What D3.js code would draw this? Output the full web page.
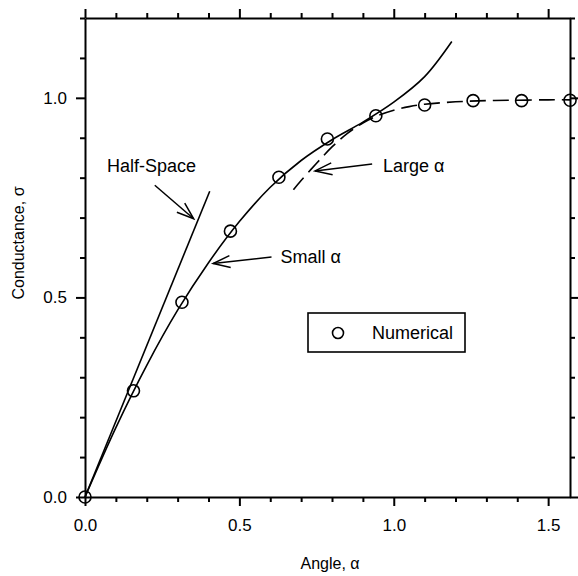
<!DOCTYPE html>
<html>
<head>
<meta charset="utf-8">
<script src="https://cdn.jsdelivr.net/npm/d3@7"></script>
<style>
  body { margin: 0; background: #fff; }
  svg text { font-family: "Liberation Sans", Arial, Helvetica, sans-serif; fill: #000; }
  .axis path, .axis line { stroke: #000; stroke-width: 2; }
  .axis text { font-size: 17px; }
</style>
</head>
<body>
<div id="chart"></div>
<script>
// numerical solution (circles)
var angleNum = [0, 0.157, 0.314, 0.471, 0.628, 0.785, 0.942, 1.100, 1.257, 1.414, 1.571];
var sigmaNum = [0, 0.266, 0.488, 0.666, 0.801, 0.897, 0.955, 0.982, 0.993, 0.993, 0.994];

// small angle approximation (solid)
var angleSmall = [0, 0.1, 0.2, 0.3, 0.4, 0.5, 0.6, 0.7, 0.8, 0.9, 1.0, 1.1, 1.188];
var sigmaSmall = [0, 0.174, 0.330, 0.468, 0.587, 0.690, 0.776, 0.843, 0.895, 0.939, 0.989, 1.053, 1.141];

// large angle approximation (dashed)
var angleLarge = [0.675, 0.7, 0.75, 0.8, 0.85, 0.9, 0.95, 1.0, 1.05, 1.1, 1.2, 1.3, 1.4, 1.5, 1.571];
var sigmaLarge = [0.770, 0.793, 0.836, 0.877, 0.911, 0.937, 0.956, 0.969, 0.978, 0.984, 0.990, 0.993, 0.994, 0.995, 0.995];

// half-space (straight line)
var angleHalf = [0, 0.404];
var sigmaHalf = [0, 0.766];

// tick values
var xMajor = [0, 0.5, 1.0, 1.5];
var xMinor = [0.1, 0.2, 0.3, 0.4, 0.6, 0.7, 0.8, 0.9, 1.1, 1.2, 1.3, 1.4];
var yMajor = [0, 0.5, 1.0];
var yMinor = [0.1, 0.2, 0.3, 0.4, 0.6, 0.7, 0.8, 0.9, 1.1, 1.2];

// annotations: label, label position, arrow tail, arrow head (data units)
var notes = [
  {text: "Half-Space", lx: 0.071, ly: 0.813, x0: 0.226, y0: 0.781, x1: 0.352, y1: 0.697},
  {text: "Small \u03b1", lx: 0.633, ly: 0.586, x0: 0.604, y0: 0.601, x1: 0.415, y1: 0.585},
  {text: "Large \u03b1", lx: 0.965, ly: 0.815, x0: 0.930, y0: 0.834, x1: 0.745, y1: 0.817}
];

var W = 578, H = 576;
var margin = {top: 18, right: 8, bottom: 79, left: 85};

var x = d3.scaleLinear().domain([0, Math.PI / 2]).range([margin.left, W - margin.right]);
var y = d3.scaleLinear().domain([0, 1.2]).range([H - margin.bottom, margin.top]);

var svg = d3.select("#chart").append("svg")
  .attr("width", W)
  .attr("height", H);

var fmt = d3.format(".1f");

//Draw the axes: major ticks with labels, minor ticks shorter
function drawAxis(axisFn, scale, major, minor, translate, labels, pad) {
  var gMinor = svg.append("g")
    .attr("class", "axis")
    .attr("transform", translate)
    .call(axisFn(scale).tickValues(minor).tickSize(5).tickSizeOuter(0).tickFormat(""));
  gMinor.select(".domain").remove();
  var gMajor = svg.append("g")
    .attr("class", "axis")
    .attr("transform", translate)
    .call(axisFn(scale).tickValues(major).tickSize(9).tickSizeOuter(0)
      .tickFormat(labels ? fmt : "").tickPadding(pad || 9));
  gMajor.selectAll(".tick text").style("font-size", "17px");
  return gMajor;
}

drawAxis(d3.axisBottom, x, xMajor, xMinor, "translate(0," + y(0) + ")", true, 13);
drawAxis(d3.axisTop, x, xMajor, xMinor, "translate(0," + y(1.2) + ")", false);
drawAxis(d3.axisLeft, y, yMajor, yMinor, "translate(" + x(0) + ",0)", true, 9);
drawAxis(d3.axisRight, y, yMajor, yMinor, "translate(" + x(Math.PI / 2) + ",0)", false);

// axis titles
svg.append("text")
  .attr("x", 330)
  .attr("y", 569)
  .attr("text-anchor", "middle")
  .style("font-size", "16px")
  .text("Angle, \u03b1");

svg.append("text")
  .attr("transform", "translate(24,243) rotate(-90)")
  .attr("text-anchor", "middle")
  .style("font-size", "16px")
  .text("Conductance, \u03c3");

//Define the line
var line = d3.line()
  .x(function(d) { return x(d[0]); })
  .y(function(d) { return y(d[1]); })
  .curve(d3.curveCatmullRom.alpha(0.5));

function pairs(a, b) { return a.map(function(v, i) { return [v, b[i]]; }); }

svg.append("path")
  .attr("d", line(pairs(angleHalf, sigmaHalf)))
  .attr("fill", "none").attr("stroke", "#000").attr("stroke-width", 1.6);

svg.append("path")
  .attr("d", line(pairs(angleSmall, sigmaSmall)))
  .attr("fill", "none").attr("stroke", "#000").attr("stroke-width", 1.6);

svg.append("path")
  .attr("d", line(pairs(angleLarge, sigmaLarge)))
  .attr("fill", "none").attr("stroke", "#000").attr("stroke-width", 1.6)
  .attr("stroke-dasharray", "16,7");

// numerical points
svg.selectAll("circle.num")
  .data(pairs(angleNum, sigmaNum))
  .enter().append("circle")
  .attr("class", "num")
  .attr("cx", function(d) { return x(d[0]); })
  .attr("cy", function(d) { return y(d[1]); })
  .attr("r", 6)
  .attr("fill", "none")
  .attr("stroke", "#000")
  .attr("stroke-width", 1.6);

// arrow heads
svg.append("defs").append("marker")
  .attr("id", "arr")
  .attr("markerUnits", "userSpaceOnUse")
  .attr("viewBox", "-20 -8 22 16")
  .attr("refX", 0).attr("refY", 0)
  .attr("markerWidth", 22).attr("markerHeight", 16)
  .attr("orient", "auto")
  .append("path")
  .attr("d", "M-17,-6L0,0L-17,6")
  .attr("fill", "none").attr("stroke", "#000").attr("stroke-width", 1.5);

notes.forEach(function(n) {
  svg.append("line")
    .attr("x1", x(n.x0)).attr("y1", y(n.y0))
    .attr("x2", x(n.x1)).attr("y2", y(n.y1))
    .attr("stroke", "#000").attr("stroke-width", 1.5)
    .attr("marker-end", "url(#arr)");
  svg.append("text")
    .attr("x", x(n.lx)).attr("y", y(n.ly))
    .style("font-size", "18px")
    .text(n.text);
});

// legend
var lg = svg.append("g").attr("transform", "translate(308,313)");
lg.append("rect")
  .attr("width", 157).attr("height", 39)
  .attr("fill", "#fff").attr("stroke", "#000").attr("stroke-width", 1.6);
lg.append("circle")
  .attr("cx", 30).attr("cy", 20).attr("r", 5.5)
  .attr("fill", "none").attr("stroke", "#000").attr("stroke-width", 1.6);
lg.append("text")
  .attr("x", 64).attr("y", 26)
  .style("font-size", "18px")
  .text("Numerical");
</script>
</body>
</html>
